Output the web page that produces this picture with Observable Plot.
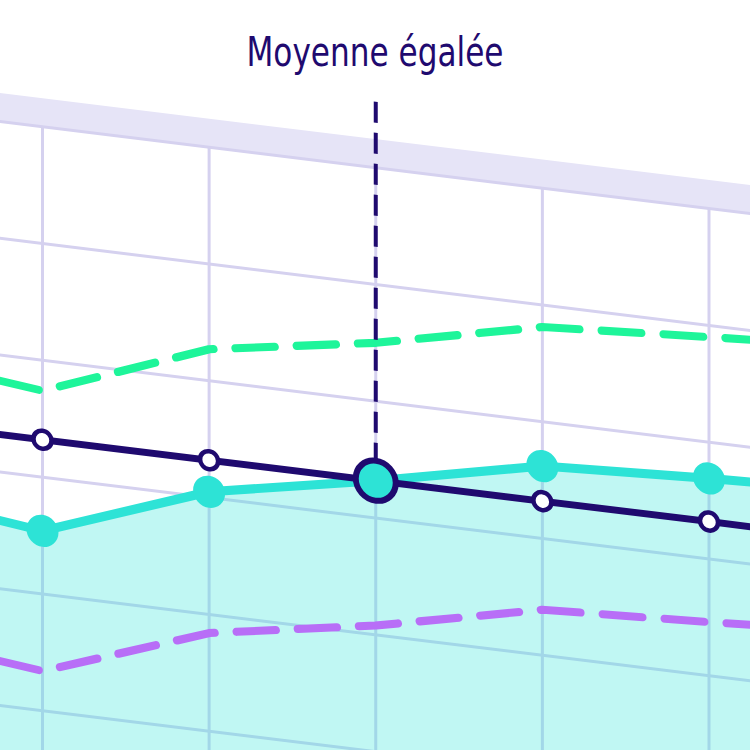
<!DOCTYPE html>
<html>
<head>
<meta charset="utf-8">
<script src="https://cdn.jsdelivr.net/npm/d3@7"></script>
<script src="https://cdn.jsdelivr.net/npm/@observablehq/plot@0.6"></script>
<style>
  html, body { margin: 0; padding: 0; background: #ffffff; overflow: hidden; }
  #wrap { position: relative; width: 750px; height: 750px; overflow: hidden; background: #ffffff; }
  #chart svg { transform: skewY(7deg); transform-origin: 0 0; display: block; }
  #title { position: absolute; left: 0; top: 0; }
</style>
</head>
<body>
<div id="wrap">
  <div id="chart"></div>
  <svg id="title" width="750" height="100"></svg>
</div>
<script>
// ---- data ----
const periods  = [0, 1, 2, 3, 4, 5, 6];           // index 1..5 visible
const observed = [27.1, 25.4, 30.5, 33.2, 36.2, 36.9, 37.4];
const upper    = [39.0, 37.4, 42.7, 45.0, 48.1, 49.0, 49.8];
const lower    = [15.0, 13.4, 18.4, 20.8, 23.9, 24.6, 25.4];
const average  = [33.2, 33.2, 33.2, 33.2, 33.2, 33.2, 33.2];
const gridValues = [0, 10, 20, 30, 40, 50, 60];
const highlightPeriod = 3;
const highlightLabel = "Moyenne égalée";

// ---- styling constants ----
const C = {
  indigo: "#1f0a6f",
  teal: "#2de3d6",
  green: "#1ef59a",
  purple: "#b86ef7",
  grid: "#d5d1ef",
  band: "#e6e4f7"
};
const gridTop = 60;
const bandTop = 62.4;
const ruleTop = 65.6;

const rows = periods.map((p, i) => ({
  p, observed: observed[i], upper: upper[i], lower: lower[i], average: average[i]
}));
const hl = rows.filter(d => d.p === highlightPeriod);

const chart = Plot.plot({
  width: 750,
  height: 750,
  margin: 0,
  style: { overflow: "hidden", background: "transparent" },
  x: { domain: [0.748, 5.249], axis: null },
  y: { domain: [6.15, 70.36], axis: null },
  marks: [
    Plot.rect([{}], { x1: periods[0], x2: periods[periods.length - 1], y1: gridTop, y2: bandTop, fill: C.band }),
    Plot.ruleY(gridValues, { stroke: C.grid, strokeWidth: 3 }),
    Plot.ruleX(periods, { y1: gridTop, y2: 0, stroke: C.grid, strokeWidth: 3 }),
    Plot.areaY(rows, { x: "p", y1: 0, y2: "observed", fill: C.teal, fillOpacity: 0.3 }),
    Plot.line(rows, { x: "p", y: "upper", stroke: C.green, strokeWidth: 8, strokeDasharray: "40,22", strokeLinecap: "round" }),
    Plot.line(rows, { x: "p", y: "lower", stroke: C.purple, strokeWidth: 8, strokeDasharray: "40,22", strokeLinecap: "round" }),
    Plot.ruleX(hl, { x: "p", y1: ruleTop, y2: "average", stroke: C.indigo, strokeWidth: 4, strokeDasharray: "21,10" }),
    Plot.line(rows, { x: "p", y: "observed", stroke: C.teal, strokeWidth: 9 }),
    Plot.dot(rows, { x: "p", y: "observed", r: 16, fill: C.teal }),
    Plot.line(rows, { x: "p", y: "average", stroke: C.indigo, strokeWidth: 7 }),
    Plot.dot(rows.filter(d => d.p !== highlightPeriod), { x: "p", y: "average", r: 9, fill: "white", stroke: C.indigo, strokeWidth: 4.5 }),
    Plot.dot(hl, { x: "p", y: "observed", r: 20, fill: C.teal, stroke: C.indigo, strokeWidth: 6 })
  ]
});
document.getElementById("chart").appendChild(chart);

// non-skewed title overlay
d3.select("#title").append("text")
  .attr("x", 375)
  .attr("y", 66)
  .attr("text-anchor", "middle")
  .attr("fill", C.indigo)
  .attr("font-family", "'Liberation Sans Narrow', 'DejaVu Sans Condensed', 'DejaVu Sans', sans-serif")
  .attr("font-size", 41)
  .attr("textLength", 257)
  .attr("lengthAdjust", "spacingAndGlyphs")
  .text(highlightLabel);
</script>
</body>
</html>
